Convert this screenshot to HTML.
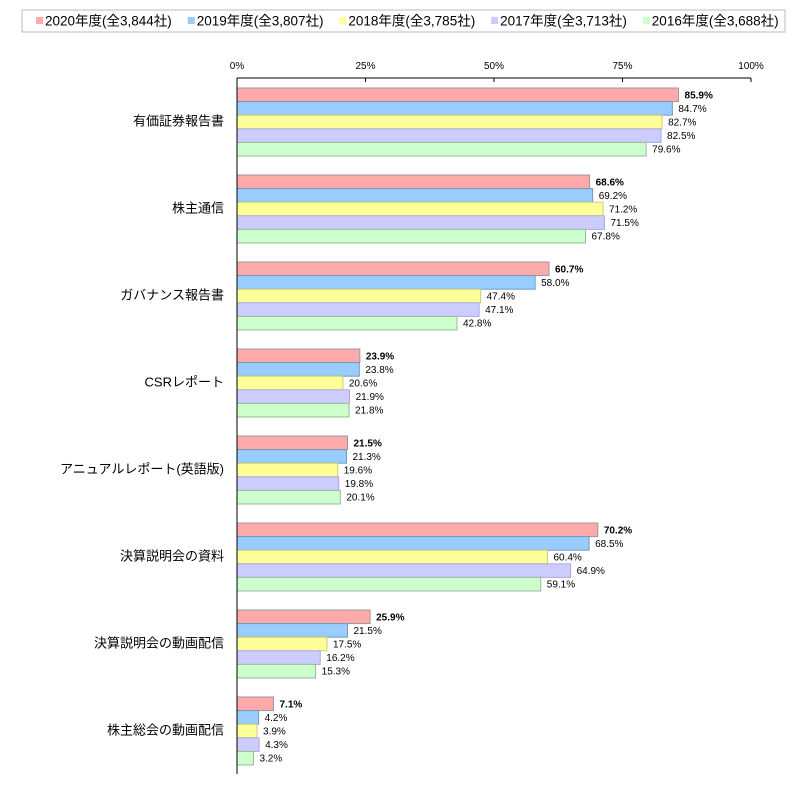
<!DOCTYPE html>
<html><head><meta charset="utf-8"><style>
body{margin:0;background:#fff;}
svg text{font-family:"Liberation Sans","Noto Sans CJK JP",sans-serif;}
</style></head><body>
<svg width="805" height="789" id="c">
<rect x="22" y="10" width="763" height="22" fill="#fff" stroke="#bbb"/>
<g id="legend"></g>
<g id="plot"></g>
</svg>
<script>
const categories=["有価証券報告書","株主通信","ガバナンス報告書","CSRレポート","アニュアルレポート(英語版)","決算説明会の資料","決算説明会の動画配信","株主総会の動画配信"];
const seriesNames=["2020年度(全3,844社)","2019年度(全3,807社)","2018年度(全3,785社)","2017年度(全3,713社)","2016年度(全3,688社)"];
const s2020=[85.9,68.6,60.7,23.9,21.5,70.2,25.9,7.1];
const s2019=[84.7,69.2,58.0,23.8,21.3,68.5,21.5,4.2];
const s2018=[82.7,71.2,47.4,20.6,19.6,60.4,17.5,3.9];
const s2017=[82.5,71.5,47.1,21.9,19.8,64.9,16.2,4.3];
const s2016=[79.6,67.8,42.8,21.8,20.1,59.1,15.3,3.2];
const ticks=[0,25,50,75,100];
const series=[s2020,s2019,s2018,s2017,s2016];
const fills=["#FFAAAA","#99CCFF","#FFFF99","#CCCCFF","#CCFFCC"];
const strokes=["#999","#7799bb","#cccc77","#aaaadd","#99bb99"];
const NS="http://www.w3.org/2000/svg";
const x0=237,x1=751,plotTop=78,step=87,bh=13.6;
const xs=v=>x0+(x1-x0)*v/100;
function mk(t,a,p){const e=document.createElementNS(NS,t);for(const k in a)e.setAttribute(k,a[k]);p.appendChild(e);return e;}
const plot=document.getElementById('plot'),leg=document.getElementById('legend');
seriesNames.forEach((n,i)=>{
 const lx=36+i*151.7;
 const r=mk('rect',{x:lx,y:17,width:7,height:7,fill:fills[i]},leg);
 
 
 const t=mk('text',{x:lx+9,y:25.5,'font-size':13.5},leg);t.textContent=n;
 
 
});
ticks.forEach(v=>{
 const t=mk('text',{x:xs(v),y:69,'font-size':10,'text-anchor':'middle'},plot);t.textContent=v+'%';
 
 
 const l=mk('line',{x1:xs(v),x2:xs(v),y1:plotTop,y2:plotTop+4,stroke:'#000'},plot);
 
 
});
categories.forEach((c,i)=>{
 const gy=plotTop+step*i;
 const t=mk('text',{x:224,y:gy+step/2+4,'font-size':13,'text-anchor':'end'},plot);t.textContent=c;
 
 
 series.forEach((s,j)=>{
  const y=gy+10+bh*j;
  const r=mk('rect',{x:x0,y:y,width:xs(s[i])-x0,height:bh,fill:fills[j],stroke:strokes[j],'stroke-width':1},plot);
  
  
  const v=mk('text',{x:xs(s[i])+6,y:y+bh/2+3.5,'font-size':10,'font-weight':j==0?'bold':'normal'},plot);
  v.textContent=s[i].toFixed(1)+'%';
  
  
 });
});
const ax=mk('line',{x1:x0,x2:x1,y1:plotTop,y2:plotTop,stroke:'#000'},plot);


const ay=mk('line',{x1:x0,x2:x0,y1:plotTop,y2:plotTop+step*8,stroke:'#000'},plot);


</script>
</body></html>
